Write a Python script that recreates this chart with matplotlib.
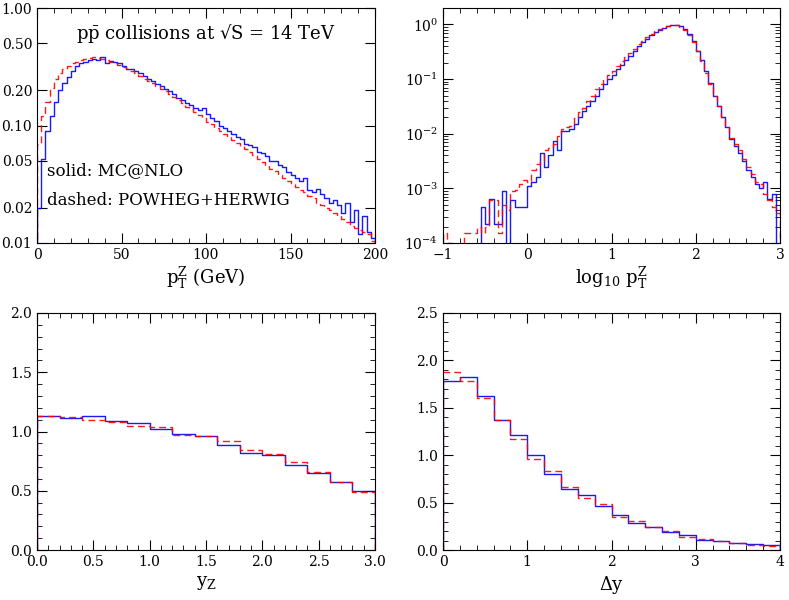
import numpy as np
import matplotlib
matplotlib.use("Agg")
import matplotlib.pyplot as plt
from matplotlib.ticker import FixedLocator, AutoMinorLocator, LogLocator, NullFormatter

plt.rcParams["font.family"] = "DejaVu Serif"
plt.rcParams["mathtext.fontset"] = "dejavuserif"

# top-left: pT of Z, 2.5 GeV bins 0..200
pt_edges = np.linspace(0, 200, 81)
pt_red = [0.07, 0.12, 0.16, 0.21, 0.25, 0.28, 0.30, 0.32, 0.34, 0.35,
          0.36, 0.37, 0.375, 0.38, 0.375, 0.37, 0.36, 0.35, 0.34, 0.33,
          0.315, 0.30, 0.29, 0.28, 0.265, 0.25, 0.24, 0.23, 0.215, 0.205,
          0.195, 0.185, 0.175, 0.165, 0.155, 0.145, 0.137, 0.13, 0.122, 0.115,
          0.108, 0.102, 0.096, 0.09, 0.085, 0.080, 0.075, 0.071, 0.067, 0.063,
          0.059, 0.056, 0.052, 0.049, 0.046, 0.043, 0.041, 0.038, 0.036, 0.034,
          0.032, 0.030, 0.028, 0.027, 0.025, 0.024, 0.022, 0.021, 0.020, 0.019,
          0.018, 0.017, 0.016, 0.015, 0.014, 0.0135, 0.013, 0.0125, 0.012, 0.0105]
pt_blue = [0.02, 0.052, 0.09, 0.12, 0.16, 0.20, 0.23, 0.26, 0.29, 0.32,
           0.34, 0.35, 0.36, 0.37, 0.36, 0.38, 0.34, 0.355, 0.35, 0.34,
           0.32, 0.305, 0.30, 0.29, 0.28, 0.265, 0.25, 0.24, 0.225, 0.215,
           0.205, 0.195, 0.185, 0.17, 0.165, 0.155, 0.15, 0.14, 0.135, 0.14,
           0.125, 0.115, 0.11, 0.10, 0.095, 0.09, 0.085, 0.08, 0.077, 0.07,
           0.068, 0.065, 0.06, 0.058, 0.055, 0.05, 0.05, 0.046, 0.044, 0.04,
           0.038, 0.036, 0.034, 0.036, 0.028, 0.027, 0.029, 0.026, 0.024, 0.022,
           0.023, 0.021, 0.018, 0.022, 0.015, 0.019, 0.012, 0.017, 0.0125, 0.011]

# top-right: log10 pT, 0.05 bins -1..3 (0 = empty bin)
lg_edges = np.linspace(-1, 3, 81)
lg_blue = [0, 0, 0, 0, 0, 0, 0, 0, 0,
           0.00045, 0.00022, 0.00065, 0.00022, 0.00022, 0.00088, 0, 0.0006, 0.00045, 0.00045, 0.00045,
           0.0011, 0.0013, 0.0016, 0.0045, 0.0025, 0.004, 0.0075, 0.005, 0.011, 0.011,
           0.012, 0.015, 0.02, 0.026, 0.032, 0.04, 0.05, 0.065, 0.08, 0.1,
           0.12, 0.15, 0.18, 0.22, 0.27, 0.33, 0.4, 0.47, 0.55, 0.63,
           0.72, 0.8, 0.87, 0.93, 0.97, 0.98, 0.92, 0.82, 0.66, 0.5,
           0.33, 0.22, 0.14, 0.085, 0.05, 0.032, 0.02, 0.013, 0.008, 0.006,
           0.0045, 0.0032, 0.0022, 0.0016, 0.0012, 0.001, 0.0013, 0.00065, 0.0008, 0]
lg_red = [0.00015, 0.0001, 0, 0, 0, 0.00015, 0.00015, 0.00015, 0.0002,
          0.00015, 0.0002, 0.0006, 0.0006, 0.00015, 0.0005, 0.0004, 0.0009, 0.00095, 0.0012, 0.0014,
          0.0013, 0.0022, 0.0028, 0.0032, 0.005, 0.0055, 0.0065, 0.009, 0.012, 0.013,
          0.014, 0.019, 0.025, 0.03, 0.04, 0.05, 0.065, 0.08, 0.1, 0.12,
          0.14, 0.17, 0.21, 0.25, 0.3, 0.36, 0.43, 0.5, 0.58, 0.66,
          0.75, 0.83, 0.9, 0.95, 0.97, 0.96, 0.9, 0.8, 0.64, 0.48,
          0.32, 0.21, 0.13, 0.08, 0.05, 0.032, 0.02, 0.013, 0.0085, 0.0065,
          0.005, 0.0035, 0.0025, 0.0018, 0.0013, 0.0012, 0.0008, 0.0006, 0.00045, 0.00035]

# bottom-left: rapidity of Z, 0.2 bins 0..3
y_edges = np.linspace(0, 3, 16)
y_blue = [1.13, 1.11, 1.13, 1.09, 1.07, 1.02, 0.98, 0.96, 0.89, 0.82, 0.80, 0.72, 0.65, 0.57, 0.50]
y_red = [1.13, 1.12, 1.10, 1.08, 1.05, 1.04, 0.97, 0.96, 0.92, 0.84, 0.81, 0.74, 0.66, 0.57, 0.49]

# bottom-right: delta y, 0.2 bins 0..4
dy_edges = np.linspace(0, 4, 21)
dy_blue = [1.78, 1.82, 1.62, 1.37, 1.21, 1.0, 0.80, 0.64, 0.58, 0.46,
           0.37, 0.29, 0.24, 0.19, 0.16, 0.11, 0.09, 0.07, 0.06, 0.05]
dy_red = [1.88, 1.78, 1.6, 1.37, 1.17, 0.96, 0.83, 0.66, 0.55, 0.48,
          0.35, 0.31, 0.24, 0.2, 0.14, 0.12, 0.09, 0.07, 0.05, 0.04]

fig = plt.figure(figsize=(7.89, 6.0), dpi=100)
W, H = 789, 600
def add_ax(x0, y0, x1, y1):
    return fig.add_axes([x0 / W, 1 - y1 / H, (x1 - x0) / W, (y1 - y0) / H])

ax1 = add_ax(37, 8, 375, 243)
ax2 = add_ax(443, 8, 780, 243)
ax3 = add_ax(37, 313, 375, 550)
ax4 = add_ax(443, 313, 780, 550)

def draw(ax, edges, blue, red, floor=0.0):
    for vals, col, ls in [(blue, "blue", "-"), (red, "red", (0, (5, 3)))]:
        v = np.array(vals, dtype=float)
        v[v <= 0] = floor
        xs = np.repeat(edges, 2)
        ys = np.concatenate([[floor], np.repeat(v, 2), [floor]])
        ax.plot(xs, ys, color=col, ls=ls, lw=1.0, alpha=0.9)

def style(ax):
    ax.tick_params(which="both", direction="in", top=True, right=True, labelsize=10)
    ax.tick_params(which="major", length=7)
    ax.tick_params(which="minor", length=3.5)

draw(ax1, pt_edges, pt_blue, pt_red, floor=1e-3)
ax1.set_yscale("log")
ax1.set_xlim(0, 200)
ax1.set_ylim(0.01, 1.0)
ax1.set_xticks([0, 50, 100, 150, 200])
ax1.yaxis.set_major_locator(FixedLocator([0.01, 0.02, 0.05, 0.1, 0.2, 0.5, 1.0]))
ax1.set_yticklabels(["0.01", "0.02", "0.05", "0.10", "0.20", "0.50", "1.00"])
ax1.yaxis.set_minor_locator(FixedLocator([]))
ax1.xaxis.set_minor_locator(AutoMinorLocator(5))
ax1.set_xlabel(r"$\mathrm{p_T^Z}$ (GeV)", fontsize=13, labelpad=2)
ax1.text(0.5, 0.94, r"$\mathrm{p\bar{p}}$ collisions at √S = 14 TeV", transform=ax1.transAxes,
         ha="center", va="top", fontsize=13)
ax1.text(0.03, 0.29, "solid: MC@NLO", transform=ax1.transAxes, fontsize=12)
ax1.text(0.03, 0.16, "dashed: POWHEG+HERWIG", transform=ax1.transAxes, fontsize=12)
style(ax1)

draw(ax2, lg_edges, lg_blue, lg_red, floor=1e-6)
ax2.set_yscale("log")
ax2.set_xlim(-1, 3)
ax2.set_ylim(1e-4, 2.0)
ax2.set_xticks([-1, 0, 1, 2, 3])
ax2.yaxis.set_major_locator(FixedLocator([1e-4, 1e-3, 1e-2, 1e-1, 1]))
ax2.yaxis.set_minor_locator(LogLocator(subs=np.arange(2, 10)))
ax2.yaxis.set_minor_formatter(NullFormatter())
ax2.xaxis.set_minor_locator(AutoMinorLocator(5))
ax2.set_xlabel(r"$\mathrm{log_{10}\ p_T^Z}$", fontsize=13, labelpad=2)
style(ax2)

draw(ax3, y_edges, y_blue, y_red)
ax3.set_xlim(0, 3)
ax3.set_ylim(0, 2)
ax3.set_xticks(np.arange(0, 3.01, 0.5))
ax3.set_yticks(np.arange(0, 2.01, 0.5))
ax3.xaxis.set_minor_locator(AutoMinorLocator(5))
ax3.yaxis.set_minor_locator(AutoMinorLocator(5))
ax3.set_xlabel(r"$\mathrm{y_Z}$", fontsize=13)
style(ax3)

draw(ax4, dy_edges, dy_blue, dy_red)
ax4.set_xlim(0, 4)
ax4.set_ylim(0, 2.5)
ax4.set_xticks(range(5))
ax4.set_yticks(np.arange(0, 2.51, 0.5))
ax4.xaxis.set_minor_locator(AutoMinorLocator(5))
ax4.yaxis.set_minor_locator(AutoMinorLocator(5))
ax4.set_xlabel(r"$\Delta\mathrm{y}$", fontsize=13)
style(ax4)

fig.savefig("out.png", dpi=100)
